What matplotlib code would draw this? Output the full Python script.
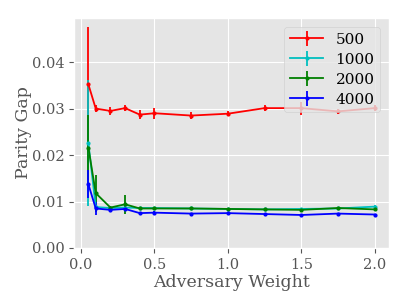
import matplotlib
matplotlib.use("Agg")
import matplotlib.pyplot as plt

plt.style.use("ggplot")
plt.rcParams['font.family'] = ['DejaVu Serif']

weights = [0.05, 0.1, 0.2, 0.3, 0.4, 0.5, 0.75, 1.0, 1.25, 1.5, 1.75, 2.0]

gap_500 = [0.0352, 0.0300, 0.0295, 0.0301, 0.0287, 0.0290, 0.0285, 0.0289, 0.0301, 0.0301, 0.0294, 0.0301]
err_500 = [0.0124, 0.0007, 0.0009, 0.0006, 0.0009, 0.0012, 0.0008, 0.0006, 0.0006, 0.0014, 0.0006, 0.0006]

gap_1000 = [0.0226, 0.0088, 0.0086, 0.0087, 0.0086, 0.0086, 0.0085, 0.0084, 0.0083, 0.0084, 0.0085, 0.0089]
err_1000 = [0.0135, 0.0004, 0.0003, 0.0003, 0.0003, 0.0003, 0.0002, 0.0002, 0.0002, 0.0002, 0.0002, 0.0003]

gap_2000 = [0.0216, 0.0118, 0.0087, 0.0094, 0.0085, 0.0085, 0.0085, 0.0084, 0.0083, 0.0082, 0.0086, 0.0083]
err_2000 = [0.0070, 0.0040, 0.0004, 0.0021, 0.0003, 0.0003, 0.0002, 0.0002, 0.0002, 0.0002, 0.0003, 0.0002]

gap_4000 = [0.0137, 0.0085, 0.0082, 0.0084, 0.0075, 0.0076, 0.0074, 0.0075, 0.0073, 0.0071, 0.0074, 0.0072]
err_4000 = [0.0030, 0.0014, 0.0003, 0.0004, 0.0003, 0.0003, 0.0002, 0.0002, 0.0002, 0.0002, 0.0002, 0.0002]

labels = ["500", "1000", "2000", "4000"]
colors = ["r", "c", "g", "b"]

fig = plt.figure(figsize=(4.07, 3.05), dpi=100)
ax = fig.add_axes([0.182, 0.187, 0.774, 0.754])

for g, e, lab, c in zip([gap_500, gap_1000, gap_2000, gap_4000],
                        [err_500, err_1000, err_2000, err_4000], labels, colors):
    ax.errorbar(weights, g, yerr=e, color=c, label=lab, marker='.', markersize=4,
                linewidth=1.3, elinewidth=1.3)

ax.set_ylim(0, 0.0495)
ax.set_yticks([0.00, 0.01, 0.02, 0.03, 0.04])
ax.set_xticks([0.0, 0.5, 1.0, 1.5, 2.0])
ax.tick_params(labelsize=10.5, colors='#555555')
ax.set_xlabel("Adversary Weight", fontsize=12.5, color='#555555', labelpad=2)
ax.set_ylabel("Parity Gap", fontsize=12.5, color='#555555', labelpad=0)
ax.legend(loc="upper right", fontsize=11, handlelength=2.2, borderpad=0.35,
          labelspacing=0.4, borderaxespad=0.6)

fig.savefig("out.png", dpi=100)
